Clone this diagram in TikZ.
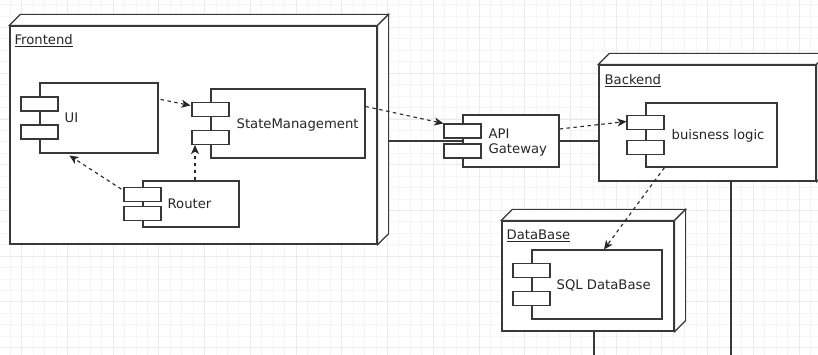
\documentclass[tikz,border=0pt]{standalone}
\usepackage{fontspec}
\setmainfont{DejaVu Sans}
\usetikzlibrary{arrows.meta, positioning, calc}

\newcommand\diafont{\fontsize{13.2}{15.4}\selectfont}

\begin{document}
\begin{tikzpicture}[
    x=1pt, y=-1pt, % work in screen units, y grows downwards
    >={Stealth[length=9pt, width=8pt, inset=2.5pt]},
    node face/.style={draw=black!78, fill=white, line width=1.2pt, inner sep=0pt}, % 3d deployment nodes
    comp/.style={draw=black!78, fill=white, line width=1.1pt, inner sep=0pt}, % component body
    tab/.style={draw=black!78, fill=white, line width=1.1pt, minimum width=37pt, minimum height=14pt, inner sep=0pt},
    comp text/.style={font=\diafont, text=black!85, inner sep=0pt},
    one line/.style={text height=9.6pt, text depth=0pt},
    box label/.style={font=\diafont, text=black!85, inner sep=0pt, anchor=base west},
    dep/.style={->, dash pattern=on 3.5pt off 3.5pt, line width=1.1pt, draw=black!85}, % dependency arrows
    link/.style={line width=1.1pt, draw=black!78},
    grid minor/.style={draw=black!4, line width=0.8pt},
    grid major/.style={draw=black!8, line width=0.8pt}
]

    % === Canvas and grid ===
    \useasboundingbox (0,0) rectangle (818,355);
    \fill[white] (0,0) rectangle (818,355);
    \foreach \i in {0,...,71} \draw[grid minor] ({10.27+\i*11.43},0) -- ++(0,355);
    \foreach \j in {0,...,31} \draw[grid minor] (0,{4.6+\j*11.43}) -- ++(818,0);
    \foreach \i in {0,...,17} \draw[grid major] ({21.7+\i*45.72},0) -- ++(0,355);
    \foreach \j in {0,...,7} \draw[grid major] (0,{27.5+\j*45.72}) -- ++(818,0);

    % === Deployment nodes (front faces) ===
    \node[node face, minimum width=367pt, minimum height=218pt] (frontend) at (193.5,135) {};
    \node[node face, minimum width=217pt, minimum height=116pt] (backend) at (707.5,123) {};
    \node[node face, minimum width=172pt, minimum height=110pt] (database) at (588,276) {};

    % top and side faces
    \foreach \n in {frontend, backend, database} {
        \draw[node face] (\n.north west) -- ++(11,-11) -- ($(\n.north east)+(11,-11)$) -- (\n.north east) -- cycle;
        \draw[node face] (\n.north east) -- ($(\n.north east)+(11,-11)$) -- ($(\n.south east)+(11,-11)$) -- (\n.south east) -- cycle;
    }

    % Labels for nodes
    \node[box label] at ($(frontend.north west)+(5,19)$) {\underline{Frontend}};
    \node[box label] at ($(backend.north west)+(6,20)$) {\underline{Backend}};
    \node[box label] at ($(database.north west)+(5,19)$) {\underline{DataBase}};

    % === Components ===
    \node[comp, minimum width=118pt, minimum height=70pt] (ui) at (99,118) {};
    \node[comp, minimum width=154pt, minimum height=69pt] (state) at (288,123.5) {};
    \node[comp, minimum width=96pt, minimum height=46pt] (router) at (191,204) {};
    \node[comp, minimum width=96pt, minimum height=52pt] (api) at (511,141) {};
    \node[comp, minimum width=131pt, minimum height=64pt] (logic) at (711.5,135) {};
    \node[comp, minimum width=130pt, minimum height=69pt] (sql) at (597,284.5) {};

    % the two little tabs on the left edge of each component
    \foreach \c/\d in {ui/14, state/14, router/9.3, api/10, logic/12.5, sql/14} {
        \node[tab] (\c-a) at ($(\c.west)+(0,-\d)$) {};
        \node[tab] (\c-b) at ($(\c.west)+(0,\d)$) {};
    }

    \node[comp text, one line, right=25pt of ui.west] {UI};
    \node[comp text, one line, right=26pt of state.west] {StateManagement};
    \node[comp text, one line, right=25pt of router.west] {Router};
    \node[comp text, align=left, right=26pt of api.west, yshift=-1.5pt] {API\\Gateway};
    \node[comp text, one line, right=26pt of logic.west] {buisness logic};
    \node[comp text, one line, right=25pt of sql.west] {SQL DataBase};

    % === Dependencies ===
    \draw[dep] ($(ui.north east)+(2,17)$) -- ($(state-a.west)+(-1,-4)$);
    \draw[dep] ($(router-a.north west)+(-2,2)$) -- ($(ui.south west)+(30,2)$);
    \draw[dep] ($(router.north)+(4,0)$) coordinate (router-up) -- (router-up |- state-b.south);
    \draw[dep] ($(state.north east)+(0,18)$) -- (api-a.north west);
    \draw[dep] ($(api.east)+(0,-12)$) -- ($(logic-a.west)+(0,-1)$);
    \draw[dep] ($(logic.south west)+(19,0)$) -- ($(sql.north)+(7,0)$);

    % === Communication lines ===
    \coordinate (frontend-side) at ($(frontend.east)+(11,0)$);
    \draw[link] (frontend-side |- api.west) -- (api.west);
    \draw[link] (api.east) -- (api.east -| backend.west);
    \coordinate (backend-out) at (731,355);
    \draw[link] (backend-out |- backend.south) -- (backend-out);
    \coordinate (database-out) at (594,355);
    \draw[link] (database-out |- database.south) -- (database-out);

\end{tikzpicture}
\end{document}
